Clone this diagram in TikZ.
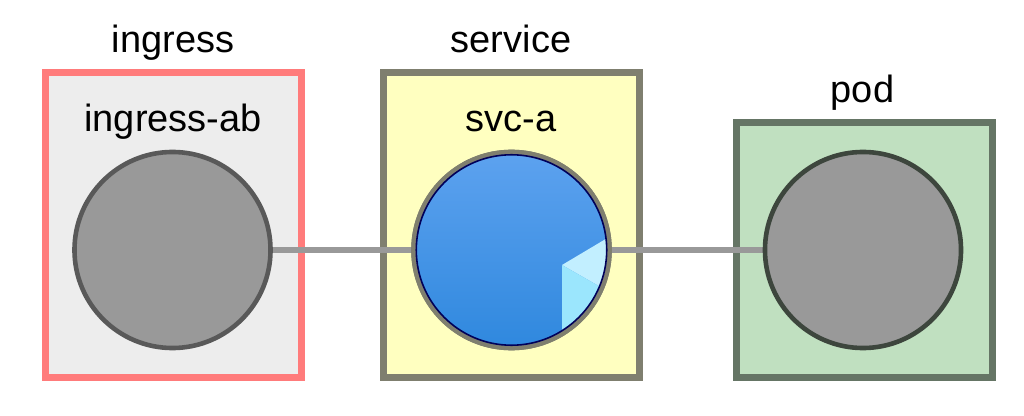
\documentclass[tikz,border=0pt]{standalone}
\usepackage{fontspec}
\setmainfont{Liberation Sans}
\usetikzlibrary{positioning}
\definecolor{ingressred}{HTML}{FF7B7B}
\definecolor{ingressfill}{HTML}{EDEDED}
\definecolor{servicegray}{HTML}{7F7F6F}
\definecolor{servicefill}{HTML}{FFFFC0}
\definecolor{podgray}{HTML}{657565}
\definecolor{podfill}{HTML}{C0E0C0}
\definecolor{nodegray}{HTML}{999999}
\definecolor{blueTop}{HTML}{5DA2EF}
\definecolor{blueBottom}{HTML}{2F88DE}
\definecolor{sliceLight}{HTML}{C2EFFF}
\definecolor{sliceDark}{HTML}{9BE6FD}
\tikzstyle{group}=[
	rectangle,
	line width=0.175cm,
	minimum width=6.4cm,
	inner sep=0pt]
\tikzstyle{member}=[
	circle,
	line width=0.115cm,
	minimum size=4.9cm,
	inner sep=0pt]
\tikzstyle{caption}=[
	anchor=base,
	text=black,
	font=\fontsize{27}{32}\selectfont]
\tikzstyle{link}=[line width=0.16cm, nodegray]

\begin{document}
\begin{tikzpicture}[x=0.025cm, y=0.025cm]
		\useasboundingbox (0,0) rectangle (1024,415);

		\node (ingress) [group, draw=ingressred, fill=ingressfill, minimum height=7.625cm] at (173.5,190) {};
		\node (service) [group, draw=servicegray, fill=servicefill, minimum height=7.625cm, right=1.875cm of ingress] {};
		\node (pod) [group, draw=podgray, fill=podfill, minimum height=6.375cm, below right=1.25cm and 2.25cm of service.north east] {};

		\node (ingressTitle) [caption] at (173,362) {ingress};
		\node (serviceTitle) [caption] at (511,362) {service};
		\node (podTitle) [caption] at (862.5,312) {pod};
		\node (ingressName) [caption] at (173,283) {ingress-ab};
		\node (serviceName) [caption] at (511,283) {svc-a};

		\coordinate (ingressC) at (172.5,165);
		\coordinate (serviceC) at (511.5,165);
		\coordinate (podC) at (863,165);

		\draw [link] (ingressC) -- (serviceC) -- (podC);

		\node (ingressab) [member, draw=black!65, fill=nodegray] at (ingressC) {};
		\node (svca) [member, draw=servicegray, top color=blueTop, bottom color=blueBottom] at (serviceC) {};
		\node (podx) [member, draw=podgray!60!black, fill=nodegray] at (podC) {};

		% slice of the service
		\begin{scope}
			\clip (svca.center) circle [radius=2.45cm];
			\fill [sliceLight] (562,150) -- (688,225) -- (688,90) -- (667,90) -- cycle;
			\fill [sliceDark] (562,150) -- (667,90) -- (667,0) -- (562,0) -- cycle;
		\end{scope}
		\draw [servicegray, line width=0.115cm] (svca.center) circle [radius=2.45cm];
		\draw [blue!35!black, line width=0.04cm] (svca.center) circle [radius=2.38cm];
	\end{tikzpicture}
\end{document}
